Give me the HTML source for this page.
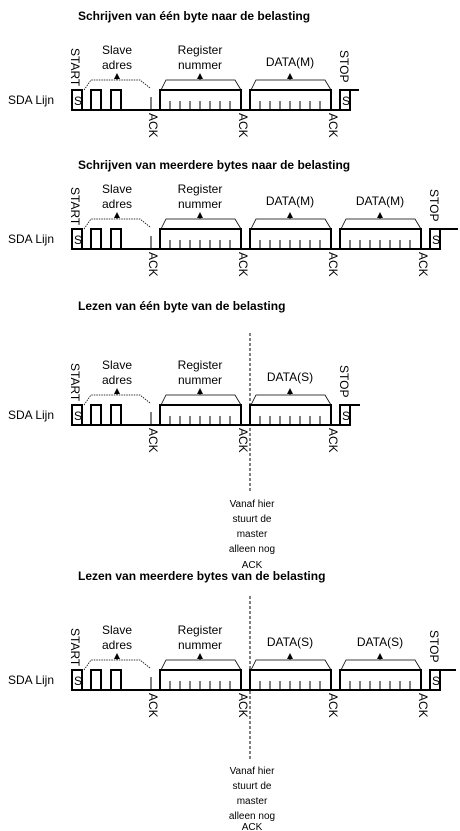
<!DOCTYPE html>
<html><head><meta charset="utf-8"><style>
html,body{margin:0;padding:0;background:#fff;}
svg{display:block;font-family:"Liberation Sans",Arial,sans-serif;}
.t{font-size:12px;font-weight:bold;}
.l{font-size:12px;}
.s{font-size:10px;}
.w{fill:none;stroke:#000;stroke-width:2;}
.k{stroke:#000;stroke-width:1;}
.tr{fill:none;stroke:#000;stroke-width:0.8;}
.dt{fill:none;stroke:#000;stroke-width:0.8;stroke-dasharray:1.5 1;}
</style></head><body>
<svg width="460" height="831" viewBox="0 0 460 831" xmlns="http://www.w3.org/2000/svg">
<defs>
<g id="byte">
<rect x="0" y="0" width="81" height="20" class="w"/>
<path class="k" d="M10,11V20M20,11V20M30,11V20M40,11V20M50,11V20M60,11V20M70,11V20"/>
</g>
<g id="arrow"><path d="M0,-17L-3,-11H3Z" fill="#000"/><line x1="0" y1="-12" x2="0" y2="-10" class="k"/></g>
<g id="head">
<rect x="72" y="0" width="10" height="20" class="w"/>
<rect x="91" y="0" width="10" height="20" class="w"/>
<rect x="111" y="0" width="10" height="20" class="w"/>
<line x1="151" y1="7" x2="151" y2="20" class="k"/>
<path class="dt" d="M84,0L91,-10H140L150,-2"/>
<path class="tr" d="M161,0L166,-10H235L241,0"/>
<use href="#arrow" x="117"/><use href="#arrow" x="200"/>
<use href="#byte" x="160"/>
</g>
</defs>

<!-- Row 1 -->
<text x="78" y="20" class="t">Schrijven van één byte naar de belasting</text>
<g transform="translate(0,90)">
<use href="#head"/>
<use href="#byte" x="250"/>
<path class="tr" d="M251,0L256,-10H325L331,0"/><use href="#arrow" x="290"/>
<line x1="72" y1="20" x2="340" y2="20" class="w"/>
<rect x="340" y="0" width="10" height="20" class="w"/>
<line x1="350" y1="0" x2="359" y2="0" class="w"/>
<text x="8" y="14" class="l">SDA Lijn</text>
<text x="74" y="15" class="l">S</text><text x="342" y="15" class="l">S</text>
<text x="117" y="-36" class="l" text-anchor="middle">Slave</text>
<text x="117" y="-21" class="l" text-anchor="middle">adres</text>
<text x="200" y="-36" class="l" text-anchor="middle">Register</text>
<text x="200" y="-21" class="l" text-anchor="middle">nummer</text>
<text x="290" y="-24" class="l" text-anchor="middle">DATA(M)</text>
<text transform="translate(71,-42) rotate(90)" class="l">START</text>
<text transform="translate(340,-40) rotate(90)" class="l">STOP</text>
<text transform="translate(149,23) rotate(90)" class="l">ACK</text>
<text transform="translate(239,23) rotate(90)" class="l">ACK</text>
<text transform="translate(329,23) rotate(90)" class="l">ACK</text>
</g>

<!-- Row 2 -->
<text x="78" y="169" class="t">Schrijven van meerdere bytes naar de belasting</text>
<g transform="translate(0,229)">
<use href="#head"/>
<use href="#byte" x="250"/><use href="#byte" x="340"/>
<path class="tr" d="M251,0L256,-10H325L331,0"/><use href="#arrow" x="290"/>
<path class="tr" d="M341,0L346,-10H415L421,0"/><use href="#arrow" x="380"/>
<line x1="72" y1="20" x2="430" y2="20" class="w"/>
<rect x="430" y="0" width="10" height="20" class="w"/>
<line x1="440" y1="0" x2="458" y2="0" class="w"/>
<text x="8" y="14" class="l">SDA Lijn</text>
<text x="74" y="15" class="l">S</text><text x="432" y="15" class="l">S</text>
<text x="117" y="-36" class="l" text-anchor="middle">Slave</text>
<text x="117" y="-21" class="l" text-anchor="middle">adres</text>
<text x="200" y="-36" class="l" text-anchor="middle">Register</text>
<text x="200" y="-21" class="l" text-anchor="middle">nummer</text>
<text x="290" y="-24" class="l" text-anchor="middle">DATA(M)</text>
<text x="380" y="-24" class="l" text-anchor="middle">DATA(M)</text>
<text transform="translate(71,-42) rotate(90)" class="l">START</text>
<text transform="translate(430,-40) rotate(90)" class="l">STOP</text>
<text transform="translate(149,23) rotate(90)" class="l">ACK</text>
<text transform="translate(239,23) rotate(90)" class="l">ACK</text>
<text transform="translate(329,23) rotate(90)" class="l">ACK</text>
<text transform="translate(419,23) rotate(90)" class="l">ACK</text>
</g>

<!-- Row 3 -->
<text x="78" y="310" class="t">Lezen van één byte van de belasting</text>
<line x1="250" y1="333" x2="250" y2="493" stroke="#000" stroke-width="1" stroke-dasharray="3 2"/>
<g transform="translate(0,405)">
<use href="#head"/>
<use href="#byte" x="250"/>
<path class="tr" d="M251,0L256,-10H325L331,0"/><use href="#arrow" x="290"/>
<line x1="72" y1="20" x2="340" y2="20" class="w"/>
<rect x="340" y="0" width="10" height="20" class="w"/>
<line x1="350" y1="0" x2="360" y2="0" class="w"/>
<text x="8" y="14" class="l">SDA Lijn</text>
<text x="74" y="15" class="l">S</text><text x="342" y="15" class="l">S</text>
<text x="117" y="-36" class="l" text-anchor="middle">Slave</text>
<text x="117" y="-21" class="l" text-anchor="middle">adres</text>
<text x="200" y="-36" class="l" text-anchor="middle">Register</text>
<text x="200" y="-21" class="l" text-anchor="middle">nummer</text>
<text x="290" y="-24" class="l" text-anchor="middle">DATA(S)</text>
<text transform="translate(71,-42) rotate(90)" class="l">START</text>
<text transform="translate(340,-40) rotate(90)" class="l">STOP</text>
<text transform="translate(149,23) rotate(90)" class="l">ACK</text>
<text transform="translate(239,23) rotate(90)" class="l">ACK</text>
<text transform="translate(329,23) rotate(90)" class="l">ACK</text>
</g>
<g class="s" text-anchor="middle">
<text x="252" y="507">Vanaf hier</text>
<text x="252" y="522">stuurt de</text>
<text x="252" y="537">master</text>
<text x="252" y="552">alleen nog</text>
<text x="252" y="568">ACK</text>
</g>

<!-- Row 4 -->
<text x="78" y="580" class="t">Lezen van meerdere bytes van de belasting</text>
<line x1="250" y1="596" x2="250" y2="760" stroke="#000" stroke-width="1" stroke-dasharray="3 2"/>
<g transform="translate(0,670)">
<use href="#head"/>
<use href="#byte" x="250"/><use href="#byte" x="340"/>
<path class="tr" d="M251,0L256,-10H325L331,0"/><use href="#arrow" x="290"/>
<path class="tr" d="M341,0L346,-10H415L421,0"/><use href="#arrow" x="380"/>
<line x1="72" y1="20" x2="430" y2="20" class="w"/>
<rect x="430" y="0" width="10" height="20" class="w"/>
<line x1="440" y1="0" x2="456" y2="0" class="w"/>
<text x="8" y="14" class="l">SDA Lijn</text>
<text x="74" y="15" class="l">S</text><text x="432" y="15" class="l">S</text>
<text x="117" y="-36" class="l" text-anchor="middle">Slave</text>
<text x="117" y="-21" class="l" text-anchor="middle">adres</text>
<text x="200" y="-36" class="l" text-anchor="middle">Register</text>
<text x="200" y="-21" class="l" text-anchor="middle">nummer</text>
<text x="290" y="-24" class="l" text-anchor="middle">DATA(S)</text>
<text x="380" y="-24" class="l" text-anchor="middle">DATA(S)</text>
<text transform="translate(71,-42) rotate(90)" class="l">START</text>
<text transform="translate(430,-40) rotate(90)" class="l">STOP</text>
<text transform="translate(149,23) rotate(90)" class="l">ACK</text>
<text transform="translate(239,23) rotate(90)" class="l">ACK</text>
<text transform="translate(329,23) rotate(90)" class="l">ACK</text>
<text transform="translate(419,23) rotate(90)" class="l">ACK</text>
</g>
<g class="s" text-anchor="middle">
<text x="252" y="774">Vanaf hier</text>
<text x="252" y="789">stuurt de</text>
<text x="252" y="804">master</text>
<text x="252" y="819">alleen nog</text>
<text x="252" y="830">ACK</text>
</g>
</svg>
</body></html>
